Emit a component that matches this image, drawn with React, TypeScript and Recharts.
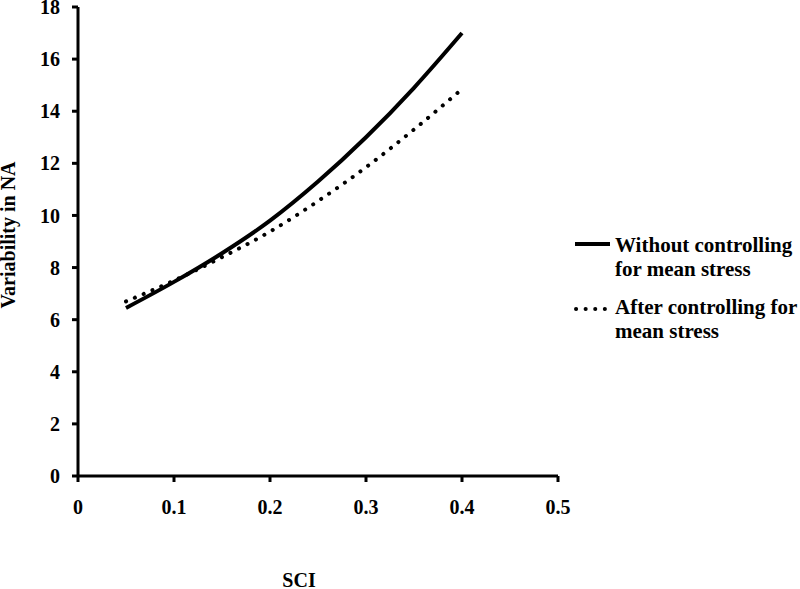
import React from "react";
import { LineChart, Line, XAxis, YAxis } from "recharts";

const sciValues = [0.05, 0.1, 0.15, 0.2, 0.25, 0.3, 0.35, 0.4];
const withoutControl = [6.45, 7.45, 8.55, 9.8, 11.3, 13.0, 14.9, 17.0];
const afterControl = [6.7, 7.5, 8.4, 9.38, 10.55, 11.85, 13.3, 14.85];
const xTicks = [0, 0.1, 0.2, 0.3, 0.4, 0.5];
const yTicks = [0, 2, 4, 6, 8, 10, 12, 14, 16, 18];
const legendLines = [
  ["Without controlling", "for mean stress"],
  ["After controlling for", "mean stress"],
];

const data = sciValues.map((x, i) => ({ x, a: withoutControl[i], b: afterControl[i] }));

const FONT = "'Liberation Serif', 'Times New Roman', serif";
const tickStyle = { fontFamily: FONT, fontWeight: 700, fontSize: 20, fill: "#000" };
const legendStyle = { fontFamily: FONT, fontWeight: 700, fontSize: 21, fill: "#000" };

const LegendBox = () => (
  <svg
    width={230}
    height={130}
    style={{ position: "absolute", left: 570, top: 228, display: "block" }}
  >
    <line x1={5} y1={16} x2={40} y2={16} stroke="#000" strokeWidth={4} />
    <text x={45} y={24} style={legendStyle}>{legendLines[0][0]}</text>
    <text x={45} y={48} style={legendStyle}>{legendLines[0][1]}</text>
    <line x1={6} y1={81} x2={40} y2={81} stroke="#000" strokeWidth={4} strokeDasharray="0.1 9.5" strokeLinecap="round" />
    <text x={45} y={86} style={legendStyle}>{legendLines[1][0]}</text>
    <text x={45} y={110} style={legendStyle}>{legendLines[1][1]}</text>
  </svg>
);

export default function App() {
  return (
    <div style={{ position: "absolute", left: 0, top: 0, width: 800, height: 589, background: "#fff", overflow: "hidden" }}>
      <LineChart width={800} height={589} data={data} margin={{ top: 7, right: 242, left: 0, bottom: 0 }}>
        <XAxis
          dataKey="x"
          type="number"
          domain={[0, 0.5]}
          ticks={xTicks}
          tickFormatter={(v: number) => (v === 0 ? "0" : String(v))}
          height={113}
          axisLine={{ stroke: "#000", strokeWidth: 3 }}
          tickLine={{ stroke: "#000", strokeWidth: 3 }}
          tickSize={6}
          tickMargin={18}
          tick={tickStyle}
          label={{
            content: () => (
              <text x={299} y={587} textAnchor="middle" style={tickStyle}>SCI</text>
            ),
          }}
        />
        <YAxis
          type="number"
          domain={[0, 18]}
          ticks={yTicks}
          width={78}
          axisLine={{ stroke: "#000", strokeWidth: 3 }}
          tickLine={{ stroke: "#000", strokeWidth: 3 }}
          tickSize={6}
          tickMargin={12}
          tick={tickStyle}
          interval={0}
          label={{
            content: () => (
              <text x={15} y={235} textAnchor="middle" transform="rotate(-90 15 235)" style={tickStyle}>
                Variability in NA
              </text>
            ),
          }}
        />
        <Line
          name="Without controlling for mean stress"
          dataKey="a"
          type="monotone"
          stroke="#000"
          strokeWidth={4}
          dot={false}
          isAnimationActive={false}
        />
        <Line
          name="After controlling for mean stress"
          dataKey="b"
          type="monotone"
          stroke="#000"
          strokeWidth={4}
          strokeDasharray="0.1 9.5"
          strokeLinecap="round"
          dot={false}
          isAnimationActive={false}
        />
      </LineChart>
      <LegendBox />
    </div>
  );
}
